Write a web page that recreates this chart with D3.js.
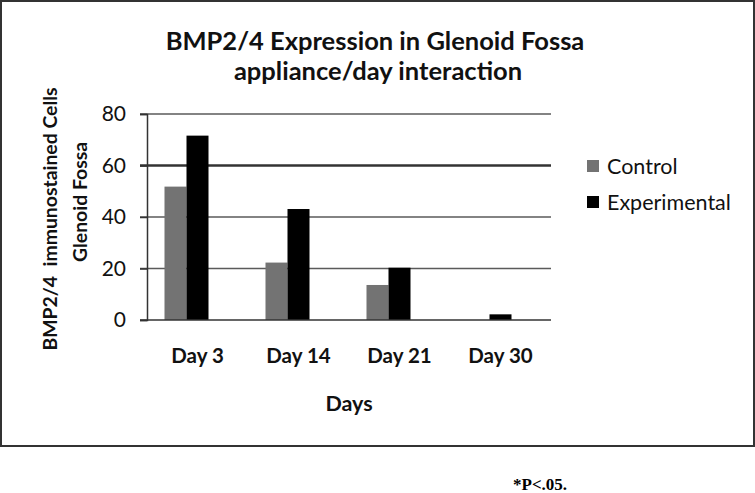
<!DOCTYPE html>
<html><head><meta charset="utf-8">
<script src="https://cdn.jsdelivr.net/npm/d3@7"></script>
<style>body{margin:0;background:#fff}svg{display:block}text{font-family:Lato,"Open Sans",sans-serif}</style>
</head><body>
<svg id="c" width="755" height="493"></svg>
<script>
const categories = ["Day 3","Day 14","Day 21","Day 30"];
const series = ["Control","Experimental"];
const control = [51.8, 22.3, 13.6, 0];
const experimental = [71.6, 43.1, 20.3, 2.2];
const yTicks = [0,20,40,60,80];
const colors = {Control:"#737373", Experimental:"#000000"};

const svg = d3.select("#c");
svg.append("rect").attr("x",1).attr("y",1).attr("width",753).attr("height",445)
  .attr("fill","#fff").attr("stroke","#333").attr("stroke-width",2);

const m = {l:147, r:551, t:114, b:320};
const y = d3.scaleLinear().domain([0,80]).range([m.b,m.t]);
const x0 = d3.scaleBand().domain(categories).range([m.l,m.r]).paddingInner(0.3465).paddingOuter(0.17325);
const x1 = d3.scaleBand().domain([...series,"_"]).range([0,x0.bandwidth()]);

// gridlines
svg.append("g").selectAll("line").data(yTicks.filter(d=>d>0)).join("line")
  .attr("x1",m.l-7).attr("x2",m.r).attr("y1",d=>y(d)).attr("y2",d=>y(d))
  .attr("stroke",d=>d===60?"#333":"#5a5a5a").attr("stroke-width",d=>d===60?2.5:1.5);

const rows = categories.map((c,i)=>({c, vals:[{s:"Control",v:control[i]},{s:"Experimental",v:experimental[i]}]}));
svg.append("g").selectAll("g").data(rows).join("g")
  .attr("transform",d=>`translate(${x0(d.c)},0)`)
  .selectAll("rect").data(d=>d.vals.filter(v=>v.v>0)).join("rect")
  .attr("x",d=>x1(d.s)).attr("width",x1.bandwidth())
  .attr("y",d=>y(d.v)).attr("height",d=>y(0)-y(d.v))
  .attr("fill",d=>colors[d.s]);

// y axis
const ya = svg.append("g").attr("transform",`translate(${m.l},0)`)
  .call(d3.axisLeft(y).tickValues(yTicks).tickSize(7).tickPadding(14));
ya.select(".domain").attr("stroke","#333").attr("stroke-width",1.5);
ya.selectAll(".tick line").attr("stroke","#333").attr("stroke-width",1.5);
ya.selectAll(".tick text").attr("font-size",21).attr("fill","#111").style("font-family","Lato,sans-serif");

// baseline
svg.append("line").attr("x1",m.l-7).attr("x2",m.r).attr("y1",y(0)).attr("y2",y(0))
  .attr("stroke","#333").attr("stroke-width",1.5);

// x axis labels
const xa = svg.append("g").attr("transform",`translate(0,${m.b})`)
  .call(d3.axisBottom(x0).tickSize(0).tickPadding(28));
xa.select(".domain").remove();
xa.selectAll(".tick text").attr("font-size",20.5).attr("font-weight","bold").attr("fill","#111")
  .style("font-family","Lato,sans-serif");

// titles
svg.append("text").attr("x",375).attr("y",50).attr("text-anchor","middle")
  .attr("font-size",25.5).attr("font-weight","bold").attr("fill","#111").text("BMP2/4 Expression in Glenoid Fossa");
svg.append("text").attr("x",378).attr("y",80).attr("text-anchor","middle")
  .attr("font-size",25.5).attr("font-weight","bold").attr("fill","#111").text("appliance/day interaction");
svg.append("text").attr("x",349).attr("y",411).attr("text-anchor","middle")
  .attr("font-size",21.5).attr("font-weight","bold").attr("fill","#111").text("Days");
svg.append("text").attr("transform","translate(57,219) rotate(-90)").attr("text-anchor","middle")
  .attr("font-size",19.4).attr("font-weight","bold").attr("fill","#111").attr("xml:space","preserve")
  .style("white-space","pre").text("BMP2/4  immunostained Cells");
svg.append("text").attr("transform","translate(87,202) rotate(-90)").attr("text-anchor","middle")
  .attr("font-size",19.4).attr("font-weight","bold").attr("fill","#111").text("Glenoid Fossa");

// legend
const lg = svg.append("g").selectAll("g").data(series).join("g")
  .attr("transform",(d,i)=>`translate(587,${160+i*36})`);
lg.append("rect").attr("width",12).attr("height",12).attr("fill",d=>colors[d]);
lg.append("text").attr("x",20).attr("y",14).attr("font-size",21.5).attr("fill","#111").text(d=>d);

// footnote
svg.append("text").attr("x",513).attr("y",490).attr("font-size",17).attr("font-weight","bold")
  .style("font-family","'Liberation Serif','Times New Roman',serif").attr("fill","#000").text("*P<.05.");
</script>
</body></html>
